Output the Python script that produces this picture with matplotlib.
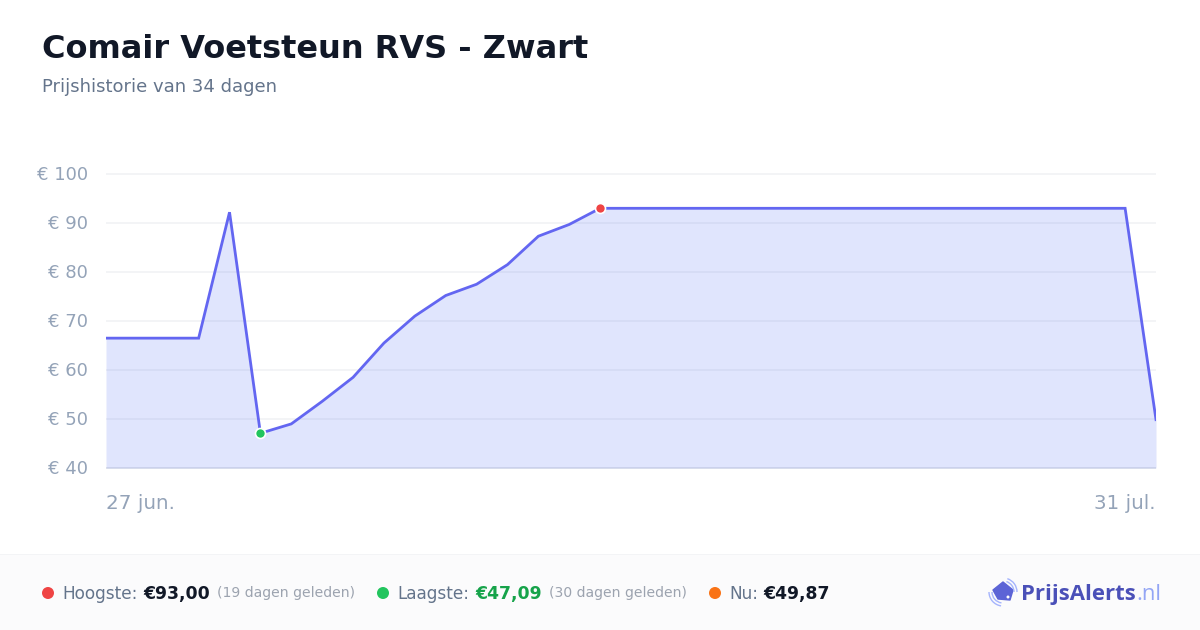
import matplotlib
matplotlib.use("Agg")
import matplotlib.pyplot as plt
from matplotlib.patches import Rectangle, Polygon, Arc, Circle
from matplotlib.transforms import ScaledTranslation

title = "Comair Voetsteun RVS - Zwart"
subtitle = "Prijshistorie van 34 dagen"
days = list(range(35))
prices = [66.5, 66.5, 66.5, 66.5, 92.2, 47.09, 49.0, 53.6, 58.5, 65.5, 71.0, 75.2,
          77.5, 81.5, 87.3, 89.7, 93.0, 93.0, 93.0, 93.0, 93.0, 93.0, 93.0, 93.0,
          93.0, 93.0, 93.0, 93.0, 93.0, 93.0, 93.0, 93.0, 93.0, 93.0, 49.87]
y_ticks = [40, 50, 60, 70, 80, 90, 100]
y_labels = ["€ 40", "€ 50", "€ 60", "€ 70", "€ 80", "€ 90", "€ 100"]
x_ticks = [0, 34]
x_labels = ["27 jun.", "31 jul."]
high_idx = 16
low_idx = 5

W, H = 1200, 630
plt.rcParams["font.family"] = "DejaVu Sans"
fig = plt.figure(figsize=(12, 6.3), dpi=100, facecolor="white")


def fx(px):
    return px / W


def fy(py):
    return 1 - py / H


# footer band
fig.add_artist(Rectangle((0, 0), 1, fy(554), transform=fig.transFigure, fc="#fbfbfc", ec="none", zorder=0))
fig.add_artist(Rectangle((0, fy(555)), 1, 1 / H, transform=fig.transFigure, fc="#f3f4f6", ec="none", zorder=0))

ax = fig.add_axes([fx(106), fy(468), 1050 / W, 294 / H])
ax.set_facecolor("none")
ax.set_xlim(0, 34)
ax.set_ylim(40, 100)
for s in ax.spines.values():
    s.set_visible(False)
ax.set_yticks(y_ticks, y_labels, fontsize=12.95, color="#94a3b8")
ax.set_xticks(x_ticks, x_labels, fontsize=14.3, color="#94a3b8")
ax.tick_params(axis="both", length=0)
ax.tick_params(axis="y", pad=13)
ax.tick_params(axis="x", pad=19)
xt = ax.get_xticklabels()
xt[0].set_ha("left")
xt[1].set_ha("right")
up = ScaledTranslation(0, 0.01, fig.dpi_scale_trans)
for lab in ax.get_yticklabels():
    lab.set_transform(lab.get_transform() + up)
for v in y_ticks:
    ax.axhline(v, color="#e5e7eb" if v == 40 else "#f3f4f6", lw=1.4, zorder=1, solid_capstyle="butt", clip_on=False)
ax.fill_between(days, prices, 40, color="#647df5", alpha=0.2, lw=0, zorder=2)
ax.plot(days, prices, color="#6366f1", lw=2.0, zorder=3, solid_joinstyle="miter")
ax.plot(days[high_idx], prices[high_idx], "o", ms=7.2, mfc="#ef4444", mec="white", mew=1.2, zorder=4, clip_on=False)
ax.plot(days[low_idx], prices[low_idx], "o", ms=7.2, mfc="#22c55e", mec="white", mew=1.2, zorder=4, clip_on=False)


def txt(px, py, s, size, color, weight="normal", ha="left", family=None):
    return fig.text(fx(px), fy(py), s, fontsize=size, color=color, fontweight=weight, ha=ha, va="center_baseline",
                    family=family or "DejaVu Sans")


txt(42, 46, title, 23.05, "#111827", "bold")
txt(42, 85.5, subtitle, 13, "#64748b")

trans = fig.dpi_scale_trans
dots = [(48, "#ef4444"), (383, "#22c55e"), (715, "#f97316")]
for px, c in dots:
    fig.add_artist(Circle((px / 100, (H - 593) / 100), 0.06, transform=trans, fc=c, ec="none", zorder=3))

txt(62, 592, "Hoogste:", 12.2, "#64748b")
txt(143, 592, "€93,00", 12.4, "#111827", "bold")
txt(217, 592, "(19 dagen geleden)", 10.1, "#9ca3af")
txt(397, 592, "Laagste:", 12.2, "#64748b")
txt(475, 592, "€47,09", 12.4, "#16a34a", "bold")
txt(549, 592, "(30 dagen geleden)", 10.1, "#9ca3af")
txt(729, 592, "Nu:", 12.2, "#64748b")
txt(763, 592, "€49,87", 12.4, "#111827", "bold")

# logo
txt(1021, 592, "PrijsAlerts", 15.9, "#4a50b8", "bold", family="Open Sans")
txt(1136, 592, ".nl", 15.9, "#93a5f5", family="Open Sans")


def P(x, y):
    return (x / 100, (H - y) / 100)


fig.add_artist(Polygon([P(1003, 582), P(1013, 590), P(1010, 600), P(998, 599), P(993, 590)], closed=True,
                       transform=trans, fc="#5c64d6", ec="#5c64d6", lw=1, joinstyle="round", zorder=3))
fig.add_artist(Circle(P(1008, 597), 0.015, transform=trans, fc="white", ec="none", zorder=4))
for d in (0.22, 0.28):
    fig.add_artist(Arc(P(1003, 592), d, d, angle=0, theta1=0, theta2=72, transform=trans, ec="#a5b4fc", lw=1, zorder=3))
    fig.add_artist(Arc(P(1003, 592), d, d, angle=0, theta1=180, theta2=262, transform=trans, ec="#a5b4fc", lw=1, zorder=3))

fig.savefig("out.png", dpi=100, facecolor="white")
